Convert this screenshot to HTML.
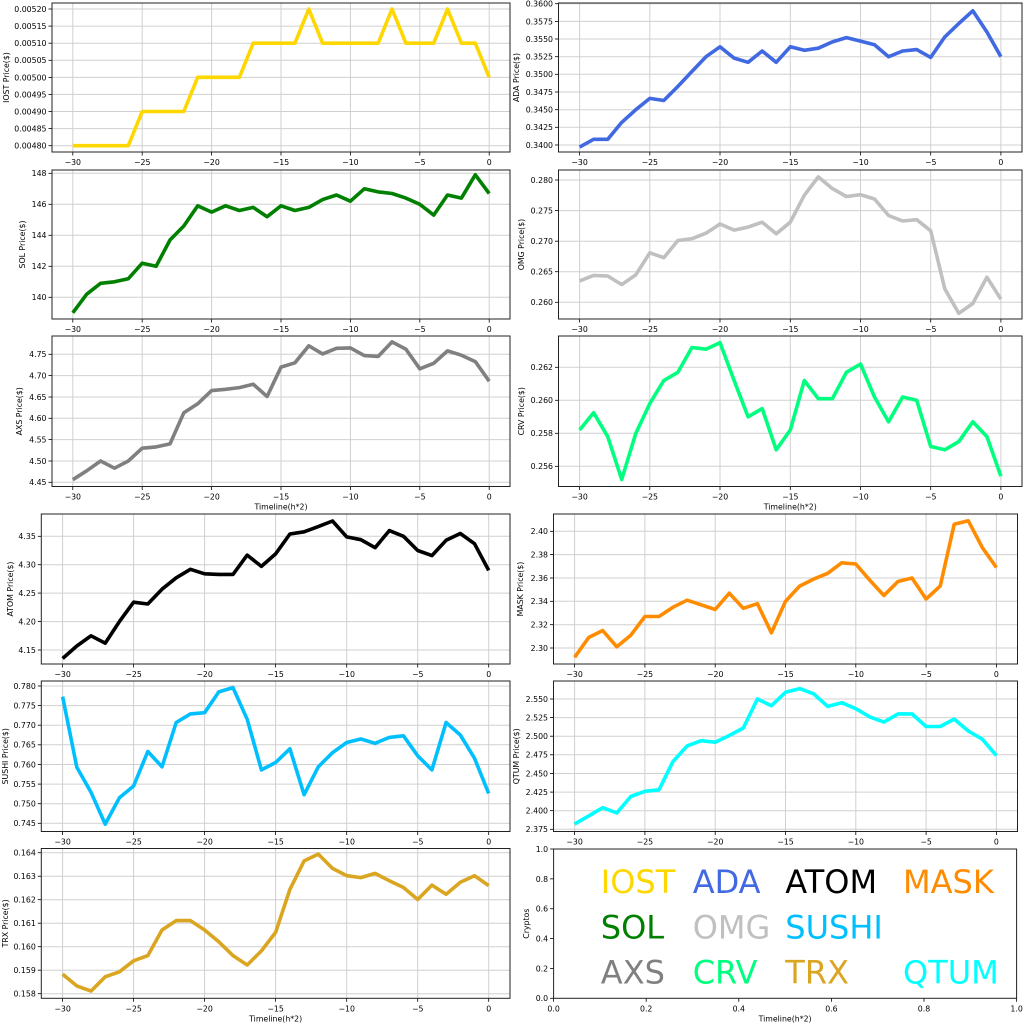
<!DOCTYPE html>
<html><head><meta charset="utf-8"><style>
html,body{margin:0;padding:0;background:#fff;width:1024px;height:1024px;overflow:hidden}
svg{display:block}
text{font-family:"DejaVu Sans","Liberation Sans",sans-serif;fill:#000}
</style></head><body>
<svg id="s" width="1024" height="1024" viewBox="0 0 1024 1024" xmlns="http://www.w3.org/2000/svg"></svg>
<script>
const P=[
{n:"IOST Price($)",c:"#FFD700",b:[52,510,3,152],y:[0.0052,9,0.0048,145.7],t:[0.0048,0.0052,0.00005],d:5,lx:6,
v:[.0048,.0048,.0048,.0048,.0048,.0049,.0049,.0049,.0049,.005,.005,.005,.005,.0051,.0051,.0051,.0051,.0052,.0051,.0051,.0051,.0051,.0051,.0052,.0051,.0051,.0051,.0052,.0051,.0051,.005]},
{n:"ADA  Price($)",c:"#4169E1",b:[558.5,1022,3,152],y:[0.36,3.7,0.34,145],t:[0.34,0.36,0.0025],d:4,lx:516,
v:[.3397,.3408,.3408,.3432,.3450,.3466,.3463,.3483,.3504,.3525,.3539,.3523,.3517,.3533,.3517,.3539,.3534,.3537,.3546,.3552,.3547,.3542,.3525,.3533,.3535,.3524,.3553,.3572,.3590,.3560,.3525]},
{n:"SOL Price($)",c:"#008000",b:[52,510,170,319],y:[148,173.3,140,297.3],t:[140,148,2],d:0,lx:22,
v:[139.0,140.2,140.9,141.0,141.2,142.2,142.0,143.7,144.6,145.9,145.5,145.9,145.6,145.8,145.2,145.9,145.6,145.8,146.3,146.6,146.2,147.0,146.8,146.7,146.4,146.0,145.3,146.6,146.4,147.9,146.7]},
{n:"OMG  Price($)",c:"#C0C0C0",b:[558.5,1022,170,319],y:[0.28,180,0.26,302.3],t:[0.26,0.28,0.005],d:3,lx:521,
v:[.2635,.2644,.2643,.2629,.2645,.2681,.2673,.2701,.2704,.2713,.2728,.2718,.2723,.2731,.2712,.2731,.2775,.2805,.2786,.2773,.2776,.2769,.2742,.2733,.2735,.2717,.2622,.2582,.2598,.2641,.2605]},
{n:"AXS Price($)",c:"#808080",b:[52,510,336,486.5],y:[4.75,354.3,4.45,482.3],t:[4.45,4.75,0.05],d:2,lx:19,xl:1,
v:[4.456,4.477,4.50,4.483,4.50,4.53,4.533,4.54,4.613,4.634,4.665,4.668,4.672,4.68,4.651,4.72,4.73,4.77,4.751,4.764,4.765,4.747,4.745,4.779,4.762,4.716,4.729,4.758,4.748,4.733,4.687]},
{n:"CRV  Price($)",c:"#00FF7F",b:[558.5,1022,336,486.5],y:[0.262,367.3,0.256,466.3],t:[0.256,0.262,0.002],d:3,lx:521,xl:1,
v:[.2582,.25925,.2578,.2552,.2580,.2598,.2612,.2617,.2632,.2631,.2635,.2612,.2590,.2595,.2570,.2582,.2612,.2601,.2601,.2617,.2622,.2602,.2587,.2602,.2600,.2572,.2570,.2575,.2587,.2578,.2554]},
{n:"ATOM  Price($)",c:"#000000",b:[41.3,510,514,664],y:[4.35,536.3,4.15,650],t:[4.15,4.35,0.05],d:2,lx:10,
v:[4.135,4.157,4.175,4.162,4.200,4.234,4.231,4.257,4.277,4.292,4.284,4.283,4.283,4.317,4.297,4.319,4.354,4.358,4.367,4.377,4.349,4.344,4.330,4.360,4.350,4.325,4.316,4.343,4.355,4.337,4.290]},
{n:"MASK  Price($)",c:"#FF8C00",b:[553.5,1017.5,514,664],y:[2.40,531.3,2.30,648],t:[2.30,2.40,0.02],d:2,lx:520,
v:[2.292,2.309,2.315,2.301,2.311,2.327,2.327,2.335,2.341,2.337,2.333,2.347,2.334,2.338,2.313,2.340,2.353,2.359,2.364,2.373,2.372,2.358,2.345,2.357,2.360,2.342,2.353,2.406,2.409,2.386,2.369]},
{n:"SUSHI  Price($)",c:"#00BFFF",b:[41.3,510,681,831.5],y:[0.78,686,0.745,823.3],t:[0.745,0.78,0.005],d:3,lx:5,
v:[.7773,.7593,.7529,.7448,.7515,.7545,.7633,.7594,.7707,.7729,.7732,.7785,.7796,.7715,.7586,.7605,.7640,.7523,.7594,.7630,.7656,.7665,.7654,.7669,.7673,.7622,.7586,.7707,.7675,.7616,.7526]},
{n:"QTUM Price($)",c:"#00FFFF",b:[553.5,1017.5,681,831.5],y:[2.55,699,2.375,829.3],t:[2.375,2.55,0.025],d:3,lx:516,
v:[2.382,2.393,2.404,2.397,2.419,2.426,2.428,2.466,2.487,2.494,2.492,2.501,2.511,2.550,2.541,2.559,2.564,2.557,2.540,2.545,2.537,2.526,2.519,2.530,2.530,2.513,2.513,2.523,2.507,2.496,2.474]},
{n:"TRX Price($)",c:"#DAA520",b:[41.3,510,848.5,998.3],y:[0.164,852.7,0.158,993.7],t:[0.158,0.164,0.001],d:3,lx:5,xl:1,
v:[.15883,.15833,.15811,.15872,.15893,.15940,.15962,.16071,.16111,.16111,.16071,.16021,.15962,.15922,.15982,.16061,.16244,.16365,.16394,.16333,.16302,.16294,.16312,.16281,.16252,.16201,.16262,.16223,.16274,.16302,.16260]}
];
const FS=7.8;
let h="";
const m=s=>String(s).replace("-","\u2212");
for(const p of P){
 const [L,R,T,B]=p.b;
 const X=x=>L+(x+31.5)/33*(R-L);
 const Y=v=>p.y[1]+(v-p.y[0])/(p.y[2]-p.y[0])*(p.y[3]-p.y[1]);
 for(let x=-30;x<=0;x+=5){const px=X(x).toFixed(1);
  h+=`<line x1="${px}" y1="${T}" x2="${px}" y2="${B}" stroke="#d0d0d0" stroke-width="1"/>`;
  h+=`<line x1="${px}" y1="${B}" x2="${px}" y2="${B+3.5}" stroke="#000" stroke-width="0.8"/>`;
  h+=`<text x="${px}" y="${B+13}" font-size="${FS}" text-anchor="middle">${m(x)}</text>`;}
 const [a,bb,st]=p.t;const n=Math.round((bb-a)/st);
 for(let i=0;i<=n;i++){const v=a+i*st;const py=Y(v).toFixed(1);
  h+=`<line x1="${L}" y1="${py}" x2="${R}" y2="${py}" stroke="#d0d0d0" stroke-width="1"/>`;
  h+=`<line x1="${L-3.5}" y1="${py}" x2="${L}" y2="${py}" stroke="#000" stroke-width="0.8"/>`;
  h+=`<text x="${L-5.5}" y="${(+py+2.9).toFixed(1)}" font-size="${FS}" text-anchor="end">${v.toFixed(p.d)}</text>`;}
 const pts=p.v.map((v,i)=>X(i-30).toFixed(1)+","+Y(v).toFixed(1)).join(" ");
 h+=`<svg x="${L}" y="${T}" width="${R-L}" height="${B-T}" viewBox="${L} ${T} ${R-L} ${B-T}" overflow="hidden"><polyline points="${pts}" fill="none" stroke="${p.c}" stroke-width="3.6" stroke-linejoin="round"/></svg>`;
 h+=`<rect x="${L}" y="${T}" width="${R-L}" height="${B-T}" fill="none" stroke="#222" stroke-width="1"/>`;
 const cy=(T+B)/2;
 h+=`<text x="${p.lx}" y="${cy}" font-size="${FS}" text-anchor="middle" transform="rotate(-90 ${p.lx} ${cy})" dy="2.8">${p.n}</text>`;
 if(p.xl)h+=`<text x="${(L+R)/2}" y="${B+23}" font-size="${FS}" text-anchor="middle">Timeline(h*2)</text>`;
}
{const L=553.6,R=1016.6,T=849,B=998.3;
 for(let i=0;i<=5;i++){const f=i/5;const px=L+f*(R-L),py=B-f*(B-T);
  h+=`<line x1="${px}" y1="${B}" x2="${px}" y2="${B+3.5}" stroke="#000" stroke-width="0.8"/>`;
  h+=`<text x="${px}" y="${B+13}" font-size="${FS}" text-anchor="middle">${f.toFixed(1)}</text>`;
  h+=`<line x1="${L-3.5}" y1="${py}" x2="${L}" y2="${py}" stroke="#000" stroke-width="0.8"/>`;
  h+=`<text x="${L-5.5}" y="${py+2.9}" font-size="${FS}" text-anchor="end">${f.toFixed(1)}</text>`;}
 h+=`<rect x="${L}" y="${T}" width="${R-L}" height="${B-T}" fill="none" stroke="#222" stroke-width="1"/>`;
 h+=`<text x="526" y="${(T+B)/2}" font-size="${FS}" text-anchor="middle" transform="rotate(-90 526 ${(T+B)/2})" dy="2.8">Cryptos</text>`;
 h+=`<text x="${(L+R)/2}" y="${B+23}" font-size="${FS}" text-anchor="middle">Timeline(h*2)</text>`;
 const W=[["IOST","#FFD700",600.8,893],["ADA","#4169E1",692.7,893],["ATOM","#000000",785.3,893],["MASK","#FF8C00",903,893],
 ["SOL","#008000",600.8,938.3],["OMG","#C0C0C0",692.7,938.3],["SUSHI","#00BFFF",785.3,938.3],
 ["AXS","#808080",600.8,983.3],["CRV","#00FF7F",692.7,983.3],["TRX","#DAA520",785.3,983.3],["QTUM","#00FFFF",903,983.3]];
 for(const w of W)h+=`<text x="${w[2]}" y="${w[3]}" font-size="32" style="fill:${w[1]}">${w[0]}</text>`;
}
document.getElementById("s").innerHTML=h;
</script>
</body></html>
